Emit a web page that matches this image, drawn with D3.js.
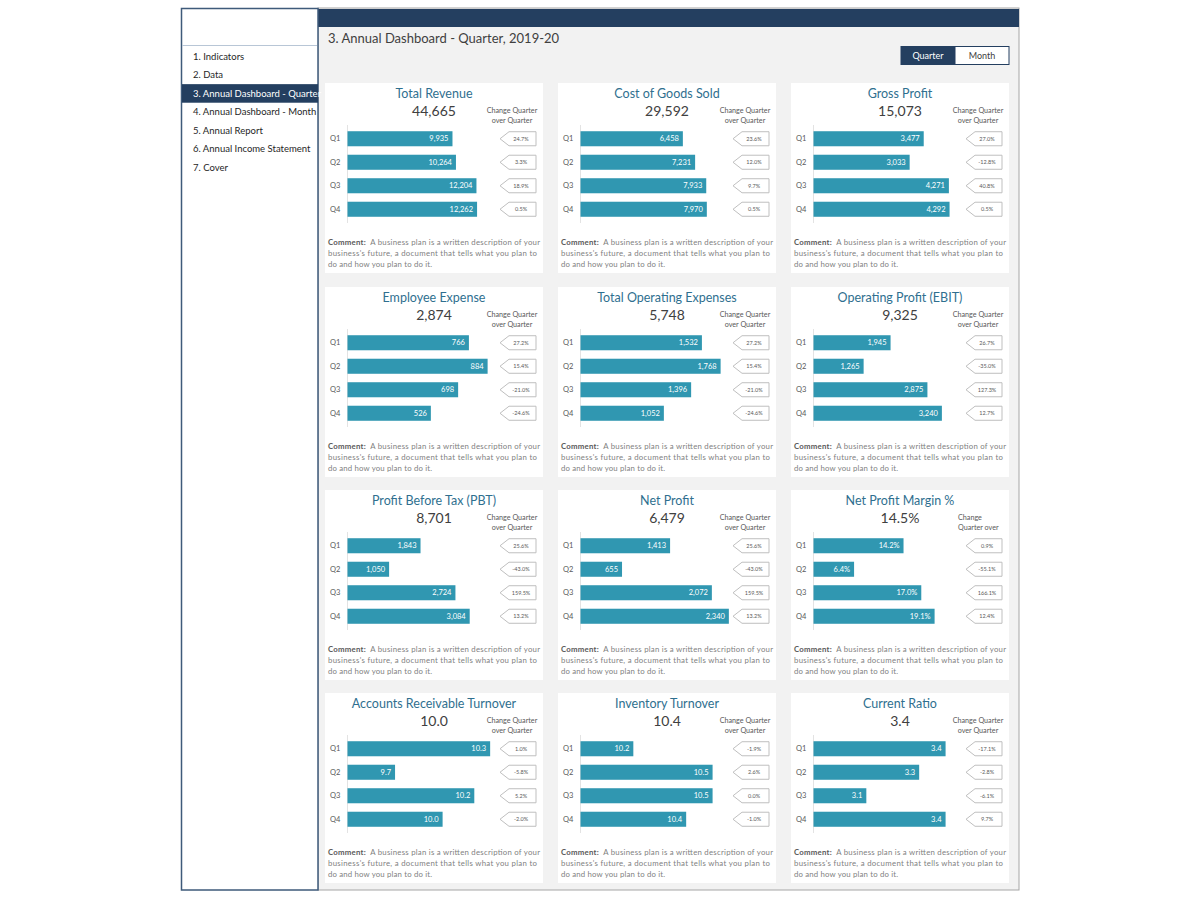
<!DOCTYPE html>
<html>
<head>
<meta charset="utf-8">
<script src="https://cdn.jsdelivr.net/npm/d3@7"></script>
<style>
  html, body { margin: 0; padding: 0; background: #ffffff; }
  svg { display: block; font-family: Lato, "Open Sans", "Noto Sans", sans-serif; }
</style>
</head>
<body>
<svg id="chart" width="1200" height="900"></svg>
<script>
// ---------------- DATA ----------------
const menuItems = ["1. Indicators", "2. Data", "3. Annual Dashboard - Quarter", "4. Annual Dashboard - Month",
  "5. Annual Report", "6. Annual Income Statement", "7. Cover"];
const activeMenu = 2;
const pageTitle = "3. Annual Dashboard - Quarter, 2019-20";
const toggleLabels = ["Quarter", "Month"];
const quarters = ["Q1", "Q2", "Q3", "Q4"];

const titles = ["Total Revenue", "Cost of Goods Sold", "Gross Profit",
  "Employee Expense", "Total Operating Expenses", "Operating Profit (EBIT)",
  "Profit Before Tax (PBT)", "Net Profit", "Net Profit Margin %",
  "Accounts Receivable Turnover", "Inventory Turnover", "Current Ratio"];
const totals = ["44,665", "29,592", "15,073", "2,874", "5,748", "9,325",
  "8,701", "6,479", "14.5%", "10.0", "10.4", "3.4"];

const totalRevenue     = [9935, 10264, 12204, 12262];
const costOfGoodsSold  = [6458, 7231, 7933, 7970];
const grossProfit      = [3477, 3033, 4271, 4292];
const employeeExpense  = [766, 884, 698, 526];
const operatingExpense = [1532, 1768, 1396, 1052];
const ebit             = [1945, 1265, 2875, 3240];
const pbt              = [1843, 1050, 2724, 3084];
const netProfit        = [1413, 655, 2072, 2340];
const netProfitMargin  = [14.2, 6.4, 17.0, 19.1];
const arTurnover       = [10.3, 9.7, 10.2, 10.0];
const inventoryTurnover= [10.2, 10.5, 10.5, 10.4];
const currentRatio     = [3.4, 3.3, 3.1, 3.4];

const chgRevenue   = ["24.7%", "3.3%", "18.9%", "0.5%"];
const chgCogs      = ["23.6%", "12.0%", "9.7%", "0.5%"];
const chgGross     = ["27.0%", "-12.8%", "40.8%", "0.5%"];
const chgEmployee  = ["27.2%", "15.4%", "-21.0%", "-24.6%"];
const chgOpex      = ["27.2%", "15.4%", "-21.0%", "-24.6%"];
const chgEbit      = ["26.7%", "-35.0%", "127.3%", "12.7%"];
const chgPbt       = ["25.6%", "-43.0%", "159.5%", "13.2%"];
const chgNet       = ["25.6%", "-43.0%", "159.5%", "13.2%"];
const chgMargin    = ["0.9%", "-55.1%", "166.1%", "12.4%"];
const chgAr        = ["1.0%", "-5.8%", "5.2%", "-2.0%"];
const chgInventory = ["-1.9%", "2.6%", "0.0%", "-1.0%"];
const chgCurrent   = ["-17.1%", "-2.8%", "-6.1%", "9.7%"];

const axisMin = [0, 0, 0, 0, 0, 0, 0, 0, 0, 9.4, 10.0, 2.9];
const axisMax = [15000, 10000, 5000, 1000, 2000, 4000, 4000, 2500, 25, 10.4, 10.6, 3.5];
const valueKind = ["int","int","int","int","int","int","int","int","pct","dec","dec","dec"];
const changeHeaders = [
  ["Change Quarter", "over Quarter"], ["Change Quarter", "over Quarter"], ["Change Quarter", "over Quarter"],
  ["Change Quarter", "over Quarter"], ["Change Quarter", "over Quarter"], ["Change Quarter", "over Quarter"],
  ["Change Quarter", "over Quarter"], ["Change Quarter", "over Quarter"], ["Change", "Quarter over"],
  ["Change Quarter", "over Quarter"], ["Change Quarter", "over Quarter"], ["Change Quarter", "over Quarter"]];
const commentLabel = "Comment:";
const commentLines = ["  A business plan is a written description of your",
  "business's future, a document that tells what you plan to",
  "do and how you plan to do it."];
const commentWidths = [212, 209, 104];

const seriesValues = [totalRevenue, costOfGoodsSold, grossProfit, employeeExpense, operatingExpense, ebit,
  pbt, netProfit, netProfitMargin, arTurnover, inventoryTurnover, currentRatio];
const seriesChanges = [chgRevenue, chgCogs, chgGross, chgEmployee, chgOpex, chgEbit,
  chgPbt, chgNet, chgMargin, chgAr, chgInventory, chgCurrent];

// ---------------- DRAW ----------------
const svg = d3.select("#chart");
const C = {
  navy: "#243f60", gray: "#f2f2f2", bar: "#3097b1", title: "#2f6f8f",
  text: "#404040", light: "#7f7f7f", tagBorder: "#bfbfbf"
};

svg.append("rect").attr("width", 1200).attr("height", 900).attr("fill", "#fff");

// main area
svg.append("rect").attr("x", 318).attr("y", 8).attr("width", 701).attr("height", 882)
  .attr("fill", C.gray).attr("stroke", "#a6a6a6").attr("stroke-width", 1);
svg.append("rect").attr("x", 318).attr("y", 9).attr("width", 701).attr("height", 18).attr("fill", C.navy);

// sidebar
svg.append("rect").attr("x", 181.5).attr("y", 8.5).attr("width", 136.5).attr("height", 881.5)
  .attr("fill", "#fff").attr("stroke", "#3e5a7a").attr("stroke-width", 1.5);
svg.append("line").attr("x1", 182).attr("x2", 317).attr("y1", 45.5).attr("y2", 45.5)
  .attr("stroke", "#b8c6d6").attr("stroke-width", 1);

const menuScale = d3.scaleBand().domain(menuItems).range([47, 177]).padding(0);
menuItems.forEach((m, i) => {
  const y = menuScale(m);
  if (i === activeMenu) {
    svg.append("rect").attr("x", 182).attr("y", y).attr("width", 136).attr("height", menuScale.bandwidth())
      .attr("fill", C.navy);
  }
  svg.append("text").attr("x", 193).attr("y", y + menuScale.bandwidth() / 2)
    .attr("dy", "0.35em").attr("font-size", 9.5)
    .attr("fill", i === activeMenu ? "#fff" : "#262626").text(m);
});

// page title
svg.append("text").attr("x", 328).attr("y", 38).attr("dy", "0.35em")
  .attr("font-size", 13).attr("fill", C.text).text(pageTitle);

// toggle
const tog = d3.scaleBand().domain(toggleLabels).range([901, 1009]);
toggleLabels.forEach((t, i) => {
  svg.append("rect").attr("x", tog(t)).attr("y", 46.5).attr("width", tog.bandwidth()).attr("height", 18)
    .attr("fill", i === 0 ? C.navy : "#fff").attr("stroke", C.navy).attr("stroke-width", 1);
  svg.append("text").attr("x", tog(t) + tog.bandwidth() / 2).attr("y", 55.5).attr("dy", "0.35em")
    .attr("text-anchor", "middle").attr("font-size", 9).attr("fill", i === 0 ? "#fff" : C.text).text(t);
});

// panels
const colX = [325, 558, 791];
const rowY = [83, 287, 490, 693];
const panelW = 218, panelH = 190;
const fmt = {
  int: d3.format(","),
  dec: d3.format(".1f"),
  pct: v => d3.format(".1f")(v) + "%"
};

titles.forEach((title, i) => {
  const px = colX[i % 3], py = rowY[Math.floor(i / 3)];
  const g = svg.append("g").attr("transform", `translate(${px},${py})`);
  g.append("rect").attr("width", panelW).attr("height", panelH).attr("fill", "#fff");

  g.append("text").attr("x", 109).attr("y", 10.5).attr("dy", "0.35em").attr("text-anchor", "middle")
    .attr("font-size", 12.5).attr("fill", C.title).text(title);
  g.append("text").attr("x", 109).attr("y", 28).attr("dy", "0.35em").attr("text-anchor", "middle")
    .attr("font-size", 14).attr("fill", C.text).text(totals[i]);

  const hdr = changeHeaders[i];
  const centered = hdr[0].length > 8;
  hdr.forEach((line, k) => {
    g.append("text").attr("x", centered ? 187 : 167).attr("y", 27 + k * 10).attr("dy", "0.35em")
      .attr("text-anchor", centered ? "middle" : "start")
      .attr("font-size", 7.2).attr("fill", "#595959").text(line);
  });

  const x = d3.scaleLinear().domain([axisMin[i], axisMax[i]]).range([22.5, 181]);
  const y = d3.scaleBand().domain(quarters).range([44, 138]).paddingInner(0.36).paddingOuter(0.18);

  g.append("line").attr("x1", 22.5).attr("x2", 22.5).attr("y1", 42).attr("y2", 140)
    .attr("stroke", "#e3e3e3").attr("stroke-width", 1);

  const vals = seriesValues[i];
  const f = fmt[valueKind[i]];
  quarters.forEach((q, k) => {
    const yy = y(q), bw = y.bandwidth();
    g.append("text").attr("x", 5).attr("y", yy + bw / 2).attr("dy", "0.35em")
      .attr("font-size", 7.5).attr("fill", "#595959").text(q);
    g.append("rect").attr("x", x(axisMin[i])).attr("y", yy)
      .attr("width", x(vals[k]) - x(axisMin[i])).attr("height", bw).attr("fill", C.bar);
    g.append("text").attr("x", x(vals[k]) - 4).attr("y", yy + bw / 2).attr("dy", "0.35em")
      .attr("text-anchor", "end").attr("font-size", 7.5).attr("fill", "#fff").text(f(vals[k]));

    // change tag
    const t0 = 175, t1 = 211, ty0 = yy + 0.5, ty1 = yy + bw - 0.5, tm = yy + bw / 2;
    g.append("path")
      .attr("d", `M${t0},${tm} L${t0 + 9},${ty0} L${t1},${ty0} L${t1},${ty1} L${t0 + 9},${ty1} Z`)
      .attr("fill", "#fff").attr("stroke", C.tagBorder).attr("stroke-width", 1);
    g.append("text").attr("x", (t0 + t1) / 2 + 3).attr("y", tm).attr("dy", "0.35em")
      .attr("text-anchor", "middle").attr("font-size", 5.5).attr("fill", "#595959")
      .text(seriesChanges[i][k]);
  });

  // comment
  const c = g.append("text").attr("x", 3).attr("y", 159).attr("dy", "0.35em")
    .attr("font-size", 7.8).attr("xml:space", "preserve").style("white-space", "pre")
    .attr("textLength", commentWidths[0]).attr("lengthAdjust", "spacing")
    .attr("fill", C.light);
  c.append("tspan").attr("font-weight", "bold").attr("fill", "#595959").text(commentLabel);
  c.append("tspan").text(commentLines[0]);
  commentLines.slice(1).forEach((l, k) => {
    g.append("text").attr("x", 3).attr("y", 170 + k * 11).attr("dy", "0.35em")
      .attr("font-size", 7.8).attr("textLength", commentWidths[k + 1]).attr("lengthAdjust", "spacing")
      .attr("fill", C.light).text(l);
  });
});
</script>
</body>
</html>
